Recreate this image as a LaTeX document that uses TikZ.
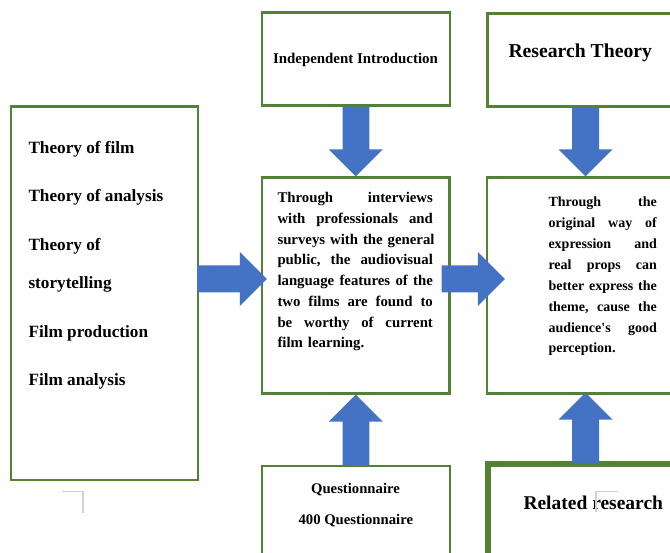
\documentclass[tikz,border=0pt]{standalone}
\usepackage{fontspec}
\setmainfont{Liberation Serif}
\usetikzlibrary{calc}
\definecolor{boxgreen}{HTML}{548235}
\definecolor{arrowblue}{HTML}{4472C4}
% one justified line: words separated by \hfill fill the given width
\newcommand\jrow[2]{\makebox[#1][l]{#2}}
\begin{document}
\begin{tikzpicture}[x=1pt,y=-1pt,
  box/.style={draw=boxgreen, line width=2.2pt, fill=white, rectangle, inner sep=0pt},
  thickbox/.style={box, line width=6pt},
  lbl/.style={inner sep=0pt, font=\bfseries\fontsize{#1}{#1}\selectfont},
  para/.style={inner sep=0pt, align=left, anchor=north west},
  cornermark/.style={draw=black!18, line width=1.3pt},
]
\useasboundingbox (0,0) rectangle (670,553);
\clip (0,0) rectangle (670,553);
\fill[white] (0,0) rectangle (670,553);

% boxes
\node[box, minimum width=187pt, minimum height=373.5pt] (theory) at (104.5,293.25) {};
\node[box, minimum width=188pt, minimum height=93pt] (intro) at (356,59) {};
\node[box, minimum width=212.5pt, minimum height=93pt] (rtheory) at (593.75,60) {};
\node[box, minimum width=187.5pt, minimum height=216pt] (mid) at (355.75,285.5) {};
\node[box, minimum width=213pt, minimum height=216pt] (rbox) at (593.5,285.5) {};
\node[box, minimum width=188pt, minimum height=154pt] (quest) at (356,543) {};
\node[thickbox, minimum width=232.5pt, minimum height=156.3pt] (related) at (603.75,541.85) {};

% guide coordinates for the arrows
\coordinate (acol) at (585.5,0);
\coordinate (hrow) at (0,279);

% down arrows
\fill[arrowblue] (mid.north) -- ++(27,-27) -- ++(-13.5,0)
  |- ($(intro.south)+(13.5,0)$) -- ($(intro.south)+(-13.5,0)$)
  |- ($(mid.north)+(-13.5,-27)$) -- ++(-13.5,0) -- cycle;
\coordinate (d2tip) at (rbox.north -| acol);
\coordinate (d2top) at (rtheory.south -| acol);
\fill[arrowblue] (d2tip) -- ++(27,-27) -- ++(-13.5,0)
  |- ($(d2top)+(13.5,0)$) -- ($(d2top)+(-13.5,0)$)
  |- ($(d2tip)+(-13.5,-27)$) -- ++(-13.5,0) -- cycle;

% up arrows
\fill[arrowblue] (mid.south) -- ++(27,27) -- ++(-13.5,0)
  |- ($(quest.north)+(13.5,0)$) -- ($(quest.north)+(-13.5,0)$)
  |- ($(mid.south)+(-13.5,27)$) -- ++(-13.5,0) -- cycle;
\coordinate (u2tip) at ($(rbox.south -| acol)+(0,-2)$);
\coordinate (u2bot) at ($(related.north -| acol)+(0,2.5)$);
\fill[arrowblue] (u2tip) -- ++(27,27) -- ++(-13.5,0)
  |- ($(u2bot)+(13.5,0)$) -- ($(u2bot)+(-13.5,0)$)
  |- ($(u2tip)+(-13.5,27)$) -- ++(-13.5,0) -- cycle;

% right arrows
\coordinate (h1tip) at ($(mid.west |- hrow)+(6,0)$);
\coordinate (h1start) at ($(theory.east |- hrow)+(-2,0)$);
\fill[arrowblue] (h1tip) -- ++(-27,-27) -- ++(0,13.5)
  -| ($(h1start)+(0,-13.5)$) -- ($(h1start)+(0,13.5)$)
  -| ($(h1tip)+(-27,13.5)$) -- ++(0,13.5) -- cycle;
\coordinate (h2tip) at ($(rbox.west |- hrow)+(19,0)$);
\coordinate (h2start) at ($(mid.east |- hrow)+(-9,0)$);
\fill[arrowblue] (h2tip) -- ++(-27,-27) -- ++(0,13.5)
  -| ($(h2start)+(0,-13.5)$) -- ($(h2start)+(0,13.5)$)
  -| ($(h2tip)+(-27,13.5)$) -- ++(0,13.5) -- cycle;

% left column items
\node[lbl=17.2, anchor=base west] (t1) at (28.3,153.3) {Theory of film};
\node[lbl=17.2, anchor=base west] (t2) at (28.3,201.7) {Theory of analysis};
\node[lbl=17.2, anchor=base west] (t3) at (28.3,250.7) {Theory of};
\node[lbl=17.2, anchor=base west] (t4) at (28.3,288.7) {storytelling};
\node[lbl=17.2, anchor=base west] (t5) at (28.3,337.3) {Film production};
\node[lbl=17.2, anchor=base west] (t6) at (28.3,386) {Film analysis};

% headings
\node[lbl=14.9, anchor=base] (introtext) at (355.5,64) {Independent Introduction};
\node[lbl=19.7, anchor=base west] (rttext) at (508.3,57.3) {Research Theory};
\node[lbl=14.7, anchor=base] (q1) at (355.5,493.5) {Questionnaire};
\node[lbl=14.7, anchor=base] (q2) at (355.8,524) {400 Questionnaire};
\node[lbl=19.5, anchor=base west] (reltext) at (523.3,509) {Related research};

% justified paragraphs
\node[para, font=\bfseries\fontsize{14.8}{20.7}\selectfont, text width=155.4pt]
  (midtext) at (277.3,188.2) {%
  \strut\jrow{155.4pt}{Through \hfill interviews}\\
  \jrow{155.4pt}{with \hfill professionals \hfill and}\\
  \jrow{155.4pt}{surveys \hfill with \hfill the \hfill general}\\
  \jrow{155.4pt}{public, \hfill the \hfill audiovisual}\\
  \jrow{155.4pt}{language \hfill features \hfill of \hfill the}\\
  \jrow{155.4pt}{two \hfill films \hfill are \hfill found \hfill to}\\
  \jrow{155.4pt}{be \hfill worthy \hfill of \hfill current}\\
  film learning.};
\node[para, font=\bfseries\fontsize{14}{20.86}\selectfont, text width=108.4pt]
  (rtext) at (548.3,192.1) {%
  \strut\jrow{108.4pt}{Through \hfill the}\\
  \jrow{108.4pt}{original \hfill way \hfill of}\\
  \jrow{108.4pt}{expression \hfill and}\\
  \jrow{108.4pt}{real \hfill props \hfill can}\\
  \jrow{108.4pt}{better \hfill express \hfill the}\\
  \jrow{108.4pt}{theme, \hfill cause \hfill the}\\
  \jrow{108.4pt}{audience\textquotesingle s \hfill good}\\
  perception.};

% corner marks
\coordinate (m1a) at (61.7,491.7);
\coordinate (m1b) at (83,491.7);
\coordinate (m1c) at (83,512.7);
\draw[cornermark] (m1a) -- (m1b) -- (m1c);
\coordinate (m2a) at (617.7,491.7);
\coordinate (m2b) at (596,491.7);
\coordinate (m2c) at (596,511.7);
\draw[cornermark] (m2a) -- (m2b) -- (m2c);
\end{tikzpicture}
\end{document}
